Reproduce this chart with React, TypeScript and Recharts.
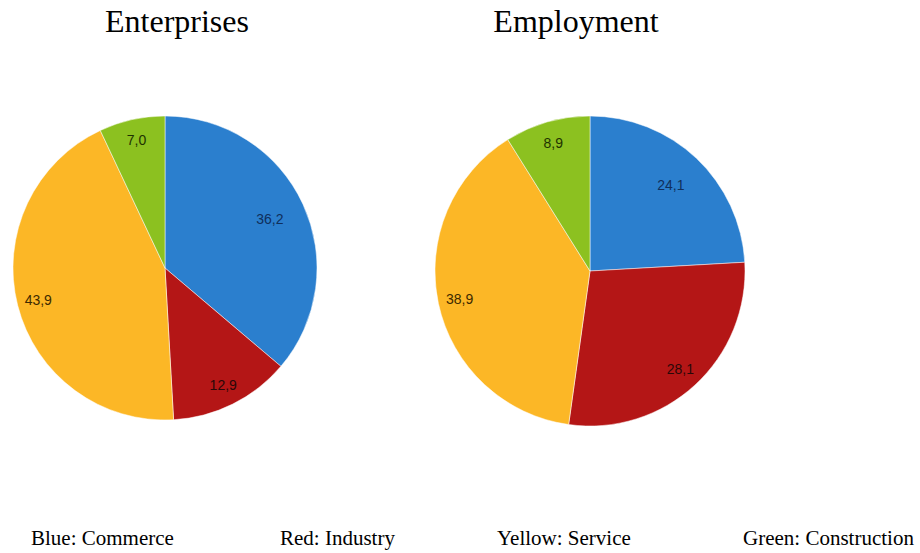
import React from "react";
import { PieChart, Pie, Cell } from "recharts";

const sectors = ["Commerce", "Industry", "Service", "Construction"];
const enterprises = [36.2, 12.9, 43.9, 7.0];
const employment = [24.1, 28.1, 38.9, 8.9];
const legendLabels = ["Blue: Commerce", "Red: Industry", "Yellow: Service", "Green: Construction"];

const COLORS = ["#2b7fce", "#b41616", "#fcb726", "#8cc120"];
const LABEL_COLORS = ["#0f2f5c", "#2a0808", "#3d2a00", "#1f3300"];
const RADIAN = Math.PI / 180;

const toRows = (values: number[]) => sectors.map((name, i) => ({ name, value: values[i] }));

const renderLabel = (props: any) => {
  const { cx, cy, midAngle, outerRadius, index, value } = props;
  const r = outerRadius * (index === 0 ? 0.76 : 0.86);
  const x = cx + r * Math.cos(-midAngle * RADIAN);
  const y = cy + r * Math.sin(-midAngle * RADIAN);
  return (
    <text
      x={x}
      y={y}
      fill={LABEL_COLORS[index]}
      textAnchor="middle"
      dominantBaseline="central"
      fontFamily="Liberation Sans, Arial, sans-serif"
      fontSize={14}
    >
      {value.toFixed(1).replace(".", ",")}
    </text>
  );
};

const serif = "'Liberation Serif', 'Times New Roman', serif";

export default function App() {
  return (
    <div
      style={{
        position: "absolute",
        left: 0,
        top: 0,
        width: 920,
        height: 553,
        background: "#fff",
        fontFamily: serif,
      }}
    >
      <div style={{ position: "absolute", left: 0, top: 3, width: 354, textAlign: "center", fontSize: 32 }}>
        Enterprises
      </div>
      <div style={{ position: "absolute", left: 400, top: 3, width: 352, textAlign: "center", fontSize: 32 }}>
        Employment
      </div>
      <PieChart
        width={920}
        height={553}
        margin={{ top: 0, right: 0, bottom: 0, left: 0 }}
        style={{ position: "absolute", left: 0, top: 0 }}
      >
        <Pie
          data={toRows(enterprises)}
          dataKey="value"
          cx={165}
          cy={268}
          outerRadius={152}
          startAngle={90}
          endAngle={-270}
          label={renderLabel}
          labelLine={false}
          stroke="#ffffff"
          strokeWidth={0.5}
          isAnimationActive={false}
        >
          {enterprises.map((_, i) => (
            <Cell key={i} fill={COLORS[i]} />
          ))}
        </Pie>
        <Pie
          data={toRows(employment)}
          dataKey="value"
          cx={590}
          cy={271}
          outerRadius={155}
          startAngle={90}
          endAngle={-270}
          label={renderLabel}
          labelLine={false}
          stroke="#ffffff"
          strokeWidth={0.5}
          isAnimationActive={false}
        >
          {employment.map((_, i) => (
            <Cell key={i} fill={COLORS[i]} />
          ))}
        </Pie>
      </PieChart>
      {legendLabels.map((t, i) => (
        <div
          key={t}
          style={{
            position: "absolute",
            left: [31, 280, 497, 743][i],
            top: 526,
            fontSize: 21,
            whiteSpace: "nowrap",
          }}
        >
          {t}
        </div>
      ))}
    </div>
  );
}
